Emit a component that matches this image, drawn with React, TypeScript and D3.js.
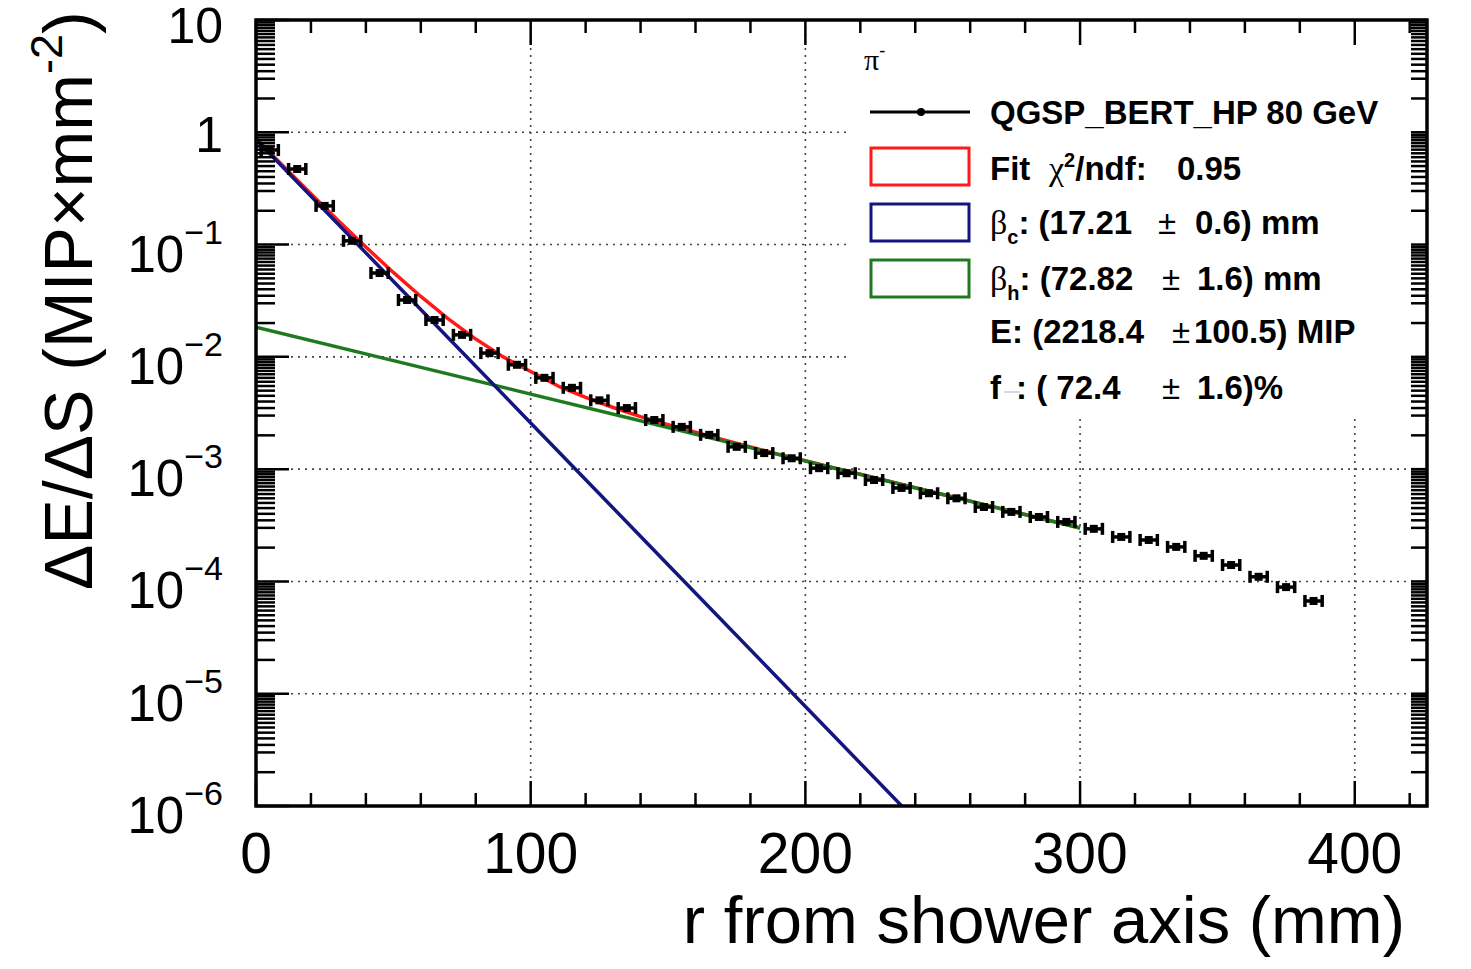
import React from 'react'
import * as d3 from 'd3'

// measured lateral profile, bins of 10 mm
const binCentres = [
  5, 15, 25, 35, 45, 55, 65, 75, 85, 95,
  105, 115, 125, 135, 145, 155, 165, 175, 185, 195,
  205, 215, 225, 235, 245, 255, 265, 275, 285, 295,
  305, 315, 325, 335, 345, 355, 365, 375, 385,
]
const binValues = [
  0.695, 0.471, 0.221, 0.108, 0.0558, 0.0321, 0.0213, 0.0157, 0.0108, 0.0085,
  0.0065, 0.0053, 0.0041, 0.0035, 2.74e-3, 2.38e-3, 2.02e-3, 1.58e-3, 1.39e-3, 1.25e-3,
  1.02e-3, 9.2e-4, 8.0e-4, 6.8e-4, 6.1e-4, 5.5e-4, 4.6e-4, 4.16e-4, 3.75e-4, 3.39e-4,
  2.94e-4, 2.49e-4, 2.34e-4, 2.03e-4, 1.69e-4, 1.4e-4, 1.1e-4, 8.9e-5, 6.7e-5,
]
const binHalfWidth = 3.5

// total fit (red)
const fitR = [
  0, 10, 20, 30, 40, 50, 60, 70, 80, 90, 100, 110, 120, 130, 140, 150,
  160, 170, 180, 190, 200, 210, 220, 230, 240, 250, 260, 270, 280, 290, 300,
]
const fitTotal = [
  0.881, 0.499, 0.284, 0.163, 0.095, 0.0565, 0.0345, 0.0218, 0.0144, 0.01, 0.0074,
  0.0055, 0.00435, 0.00354, 0.00294, 0.00249, 0.00213, 0.00183, 0.00158, 0.00136,
  0.00119, 1.03e-3, 9.0e-4, 7.83e-4, 6.82e-4, 5.95e-4, 5.19e-4, 4.52e-4, 3.94e-4, 3.44e-4, 2.99e-4,
]

// core component (blue)
const coreR = [0, 50, 100, 150, 200, 250]
const coreValues = [0.863, 0.0472, 2.58e-3, 1.41e-4, 7.7e-6, 4.2e-7]

// halo component (green)
const haloR = [0, 50, 100, 150, 200, 250, 300]
const haloValues = [0.0184, 0.00925, 0.00466, 0.00235, 0.00118, 5.95e-4, 2.99e-4]

const xTicks = [0, 100, 200, 300, 400]
const yDecades = [-6, -5, -4, -3, -2, -1, 0, 1]
const yMinorFactors = [2, 3, 3.5, 4, 4.5, 5, 5.5, 6, 6.5, 7, 7.5, 8, 8.5, 9, 9.5]

const X_MAX = 426.3
const FONT = "'Liberation Sans', Arial, Helvetica, sans-serif"

export default function App() {
  const left = 256, right = 1427, top = 20, bottom = 806
  const x = d3.scaleLinear().domain([0, X_MAX]).range([left, right])
  const y = d3.scaleLog().domain([1e-6, 10]).range([bottom, top])

  const line = d3.line<[number, number]>()
    .x(d => x(d[0]))
    .y(d => y(d[1]))

  const redPath = line(fitR.map((r, i) => [r, fitTotal[i]] as [number, number]))
  const bluePath = line(coreR.map((r, i) => [r, coreValues[i]] as [number, number]))
  const greenPath = line(haloR.map((r, i) => [r, haloValues[i]] as [number, number]))

  const xMinor = d3.range(0, X_MAX, 20)
  const yMinor: number[] = []
  yDecades.slice(0, -1).forEach(d => {
    yMinorFactors.forEach(k => yMinor.push(k * Math.pow(10, d)))
  })

  const grid = '#444'

  return (
    <div style={{ position: 'absolute', left: 0, top: 0 }}>
      <svg width={1471} height={969} style={{ display: 'block', background: '#fff' }} fontFamily={FONT}>
        <defs>
          <clipPath id="plot">
            <rect x={left} y={top} width={right - left} height={bottom - top} />
          </clipPath>
        </defs>

        {/* grid */}
        {xTicks.slice(1).map(t => (
          <line key={'gx' + t} x1={x(t)} x2={x(t)} y1={top} y2={bottom}
            stroke={grid} strokeWidth={1.6} strokeDasharray="2 5" />
        ))}
        {yDecades.slice(1, -1).map(d => (
          <line key={'gy' + d} x1={left} x2={right} y1={y(Math.pow(10, d))} y2={y(Math.pow(10, d))}
            stroke={grid} strokeWidth={1.6} strokeDasharray="2 5" />
        ))}

        {/* legend background hides the grid */}
        <rect x={848} y={26} width={570} height={389} fill="#fff" />

        {/* fit curves */}
        <g clipPath="url(#plot)" fill="none" strokeWidth={3.5} strokeLinejoin="round">
          <path d={redPath || ''} stroke="#ff1a1a" />
          <path d={greenPath || ''} stroke="#1f7a1f" />
          <path d={bluePath || ''} stroke="#15157f" />
        </g>

        {/* data points */}
        <g stroke="#000" strokeWidth={3.5}>
          {binCentres.map((r, i) => {
            const cx = x(r), cy = y(binValues[i])
            const x0 = x(r - binHalfWidth), x1 = x(r + binHalfWidth)
            return (
              <g key={'p' + r}>
                <line x1={x0} x2={x1} y1={cy} y2={cy} />
                <line x1={x0 + 1} x2={x0 + 1} y1={cy - 6} y2={cy + 6} />
                <line x1={x1 - 1} x2={x1 - 1} y1={cy - 6} y2={cy + 6} />
                <rect x={cx - 4} y={cy - 4} width={8} height={8} fill="#000" stroke="none" />
              </g>
            )
          })}
        </g>

        {/* ticks */}
        <g stroke="#000" strokeWidth={2.5}>
          {xMinor.map(t => {
            const len = t % 100 === 0 ? 25 : 13
            return (
              <g key={'xt' + t}>
                <line x1={x(t)} x2={x(t)} y1={bottom} y2={bottom - len} />
                <line x1={x(t)} x2={x(t)} y1={top} y2={top + len} />
              </g>
            )
          })}
          {yMinor.map(v => (
            <g key={'ym' + v}>
              <line x1={left} x2={left + 19} y1={y(v)} y2={y(v)} />
              <line x1={right} x2={right - 16} y1={y(v)} y2={y(v)} />
            </g>
          ))}
          {yDecades.map(d => (
            <g key={'yM' + d}>
              <line x1={left} x2={left + 33} y1={y(Math.pow(10, d))} y2={y(Math.pow(10, d))} />
              <line x1={right} x2={right - 16} y1={y(Math.pow(10, d))} y2={y(Math.pow(10, d))} />
            </g>
          ))}
        </g>

        {/* frame */}
        <rect x={left} y={top} width={right - left} height={bottom - top} fill="none" stroke="#000" strokeWidth={3.5} />

        {/* x tick labels */}
        {xTicks.map(t => (
          <text key={'xl' + t} x={x(t)} y={873} textAnchor="middle" fontSize={57}>{t}</text>
        ))}

        {/* y tick labels */}
        {yDecades.map(d => {
          const ty = y(Math.pow(10, d))
          if (d === 0 || d === 1) {
            return <text key={'yl' + d} x={223} y={ty + (d === 1 ? 23 : 20)} textAnchor="end" fontSize={50}>{d === 0 ? '1' : '10'}</text>
          }
          return (
            <text key={'yl' + d} x={223} y={ty + 27} textAnchor="end" fontSize={51}>
              10<tspan dy={-28} fontSize={34}>{'\u2212' + -d}</tspan>
            </text>
          )
        })}

        {/* axis titles */}
        <text x={1405} y={943} textAnchor="end" fontSize={67}>r from shower axis (mm)</text>
        <text transform="translate(92,590) rotate(-90)" fontSize={68}>
          ΔE/ΔS (MIP×mm<tspan dy={-30} fontSize={45}>-2</tspan><tspan dy={30}>)</tspan>
        </text>

        {/* legend */}
        <g fontSize={33} fontWeight="bold">
          <text x={864} y={70} fontFamily="'Liberation Serif', 'Times New Roman', serif" fontWeight="normal" fontSize={30}>
            π<tspan dy={-14} fontSize={18}>-</tspan>
          </text>

          <line x1={870} x2={970} y1={112} y2={112} stroke="#000" strokeWidth={3} />
          <circle cx={921} cy={112} r={4} fill="#000" />
          <text x={990} y={124}>QGSP_BERT_HP 80 GeV</text>

          <rect x={871} y={148} width={98} height={37} fill="none" stroke="#ff1a1a" strokeWidth={3} />
          <text x={990} y={180}>
            Fit
            <tspan x={1049} fontFamily="'Liberation Serif', serif" fontWeight="normal" fontSize={34}>χ</tspan>
            <tspan dy={-13} fontSize={20}>2</tspan>
            <tspan dy={13}>/ndf:</tspan>
            <tspan x={1177}>0.95</tspan>
          </text>

          <rect x={871} y={204} width={98} height={37} fill="none" stroke="#15157f" strokeWidth={3} />
          <text x={990} y={234}>
            <tspan fontFamily="'Liberation Serif', serif" fontWeight="normal" fontSize={34}>β</tspan>
            <tspan dy={10} fontSize={20}>c</tspan>
            <tspan dy={-10}>: (17.21</tspan>
            <tspan x={1158} fontWeight="normal">±</tspan>
            <tspan x={1195}>0.6) mm</tspan>
          </text>

          <rect x={871} y={260} width={98} height={37} fill="none" stroke="#1f7a1f" strokeWidth={3} />
          <text x={990} y={290}>
            <tspan fontFamily="'Liberation Serif', serif" fontWeight="normal" fontSize={34}>β</tspan>
            <tspan dy={10} fontSize={20}>h</tspan>
            <tspan dy={-10}>: (72.82</tspan>
            <tspan x={1162} fontWeight="normal">±</tspan>
            <tspan x={1197}>1.6) mm</tspan>
          </text>

          <text x={990} y={343}>
            E: (2218.4
            <tspan x={1172} fontWeight="normal">±</tspan>
            <tspan x={1194}>100.5) MIP</tspan>
          </text>

          <line x1={1004} x2={1020} y1={392} y2={392} stroke="#ccc" strokeWidth={1.5} />
          <text x={990} y={399}>
            f
            <tspan x={1016}>: ( 72.4</tspan>
            <tspan x={1162} fontWeight="normal">±</tspan>
            <tspan x={1197}>1.6)%</tspan>
          </text>
        </g>
      </svg>
    </div>
  )
}
